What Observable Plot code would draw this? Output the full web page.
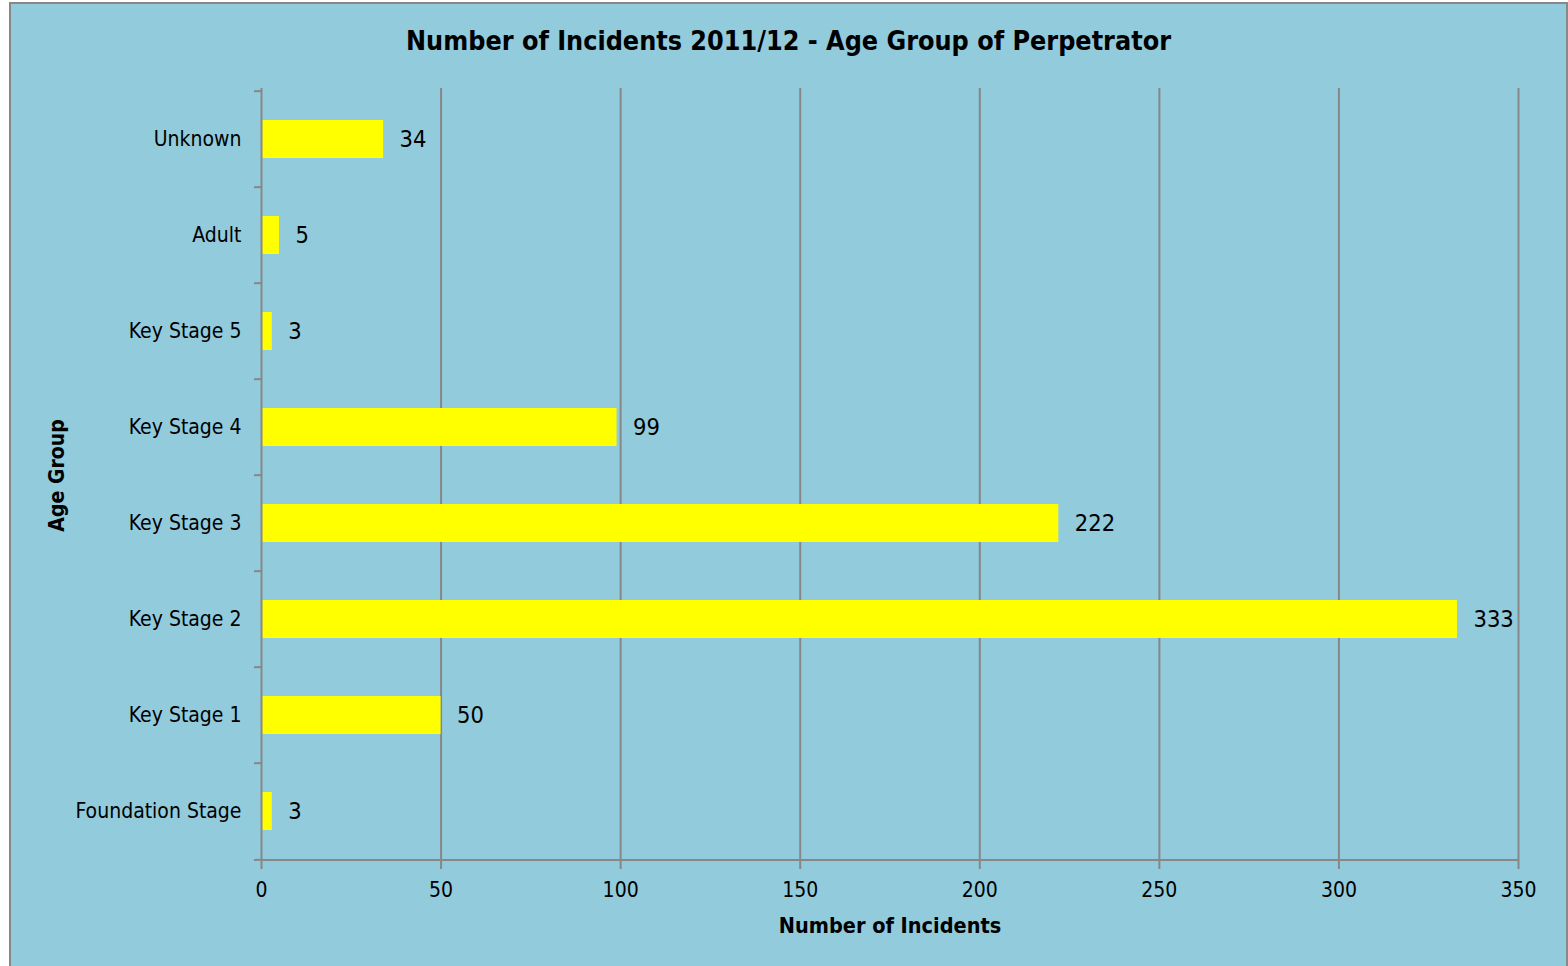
<!DOCTYPE html>
<html>
<head>
<meta charset="utf-8">
<script src="https://cdn.jsdelivr.net/npm/d3@7"></script>
<script src="https://cdn.jsdelivr.net/npm/@observablehq/plot@0.6"></script>
<style>
  html, body { margin: 0; padding: 0; background: #ffffff; }
  #wrap { position: relative; width: 1568px; height: 966px; overflow: hidden;
          font-family: "DejaVu Sans Condensed", "DejaVu Sans", sans-serif; font-stretch: semi-condensed; }
  #box { position: absolute; left: 9px; top: 2px; width: 1555px; height: 980px;
         background: #92cbdc; border: 2px solid #888888; }
  #title { position: absolute; left: 9px; width: 1559px; top: 24px; text-align: center;
           font-weight: bold; font-size: 26.7px; color: #000; line-height: 34px; }
  #chart { position: absolute; left: 0; top: 0; }
</style>
</head>
<body>
<div id="wrap">
  <div id="box"></div>
  <div id="title">Number of Incidents 2011/12 - Age Group of Perpetrator</div>
  <div id="chart"></div>
</div>
<script>
const categories = ["Unknown", "Adult", "Key Stage 5", "Key Stage 4", "Key Stage 3", "Key Stage 2", "Key Stage 1", "Foundation Stage"];
const values = [34, 5, 3, 99, 222, 333, 50, 3];
const xTicks = [0, 50, 100, 150, 200, 250, 300, 350];

const data = categories.map((c, i) => ({group: c, value: values[i]}));

const W = 1568, H = 966, mL = 261, mR = 50, mT = 88, mB = 104;
const step = (H - mT - mB) / categories.length;
const grid = "#878787";
const font = '"DejaVu Sans Condensed", "DejaVu Sans", sans-serif';

const chart = Plot.plot({
  width: W, height: H,
  marginLeft: mL, marginRight: mR, marginTop: mT, marginBottom: mB,
  style: {background: "transparent", fontFamily: font, fontSize: "21px", color: "#000", fontStretch: "semi-condensed"},
  x: {domain: [0, 350], ticks: xTicks, label: null},
  y: {domain: categories, paddingInner: 0.6, paddingOuter: 0.3, label: null},
  marks: [
    Plot.gridX(xTicks.filter(d => d > 0), {stroke: grid, strokeOpacity: 1, strokeWidth: 2}),
    Plot.barX(data, {y: "group", x: "value", fill: "#ffff00"}),
    Plot.ruleX([0], {stroke: grid, strokeWidth: 2}),
    Plot.ruleY([categories[categories.length - 1]], {x1: 0, x2: 350, dy: step / 2, stroke: grid, strokeWidth: 2}),
    Plot.ruleY(categories, {x1: 0, x2: 0, insetLeft: -7, dy: -step / 2, stroke: grid, strokeWidth: 2}),
    Plot.ruleY([categories[categories.length - 1]], {x1: 0, x2: 0, insetLeft: -7, dy: step / 2, stroke: grid, strokeWidth: 2}),
    Plot.axisX(xTicks, {tickSize: 7, tickPadding: 13, stroke: grid, strokeWidth: 2, fill: "#000", fontSize: 21, label: null}),
    Plot.axisY({tickSize: 0, tickPadding: 20, fill: "#000", fontSize: 21, label: null}),
    Plot.text(data, {y: "group", x: "value", text: d => String(d.value), dx: 16, textAnchor: "start", fill: "#000", fontSize: 23.5}),
    Plot.text(["Number of Incidents"], {frameAnchor: "bottom", dy: 70, fontWeight: "bold", fontSize: 21.5, fill: "#000"}),
    Plot.text(["Age Group"], {frameAnchor: "left", textAnchor: "middle", dx: -204, rotate: -90, fontWeight: "bold", fontSize: 21, fill: "#000"})
  ]
});
document.getElementById("chart").appendChild(chart);
</script>
</body>
</html>
